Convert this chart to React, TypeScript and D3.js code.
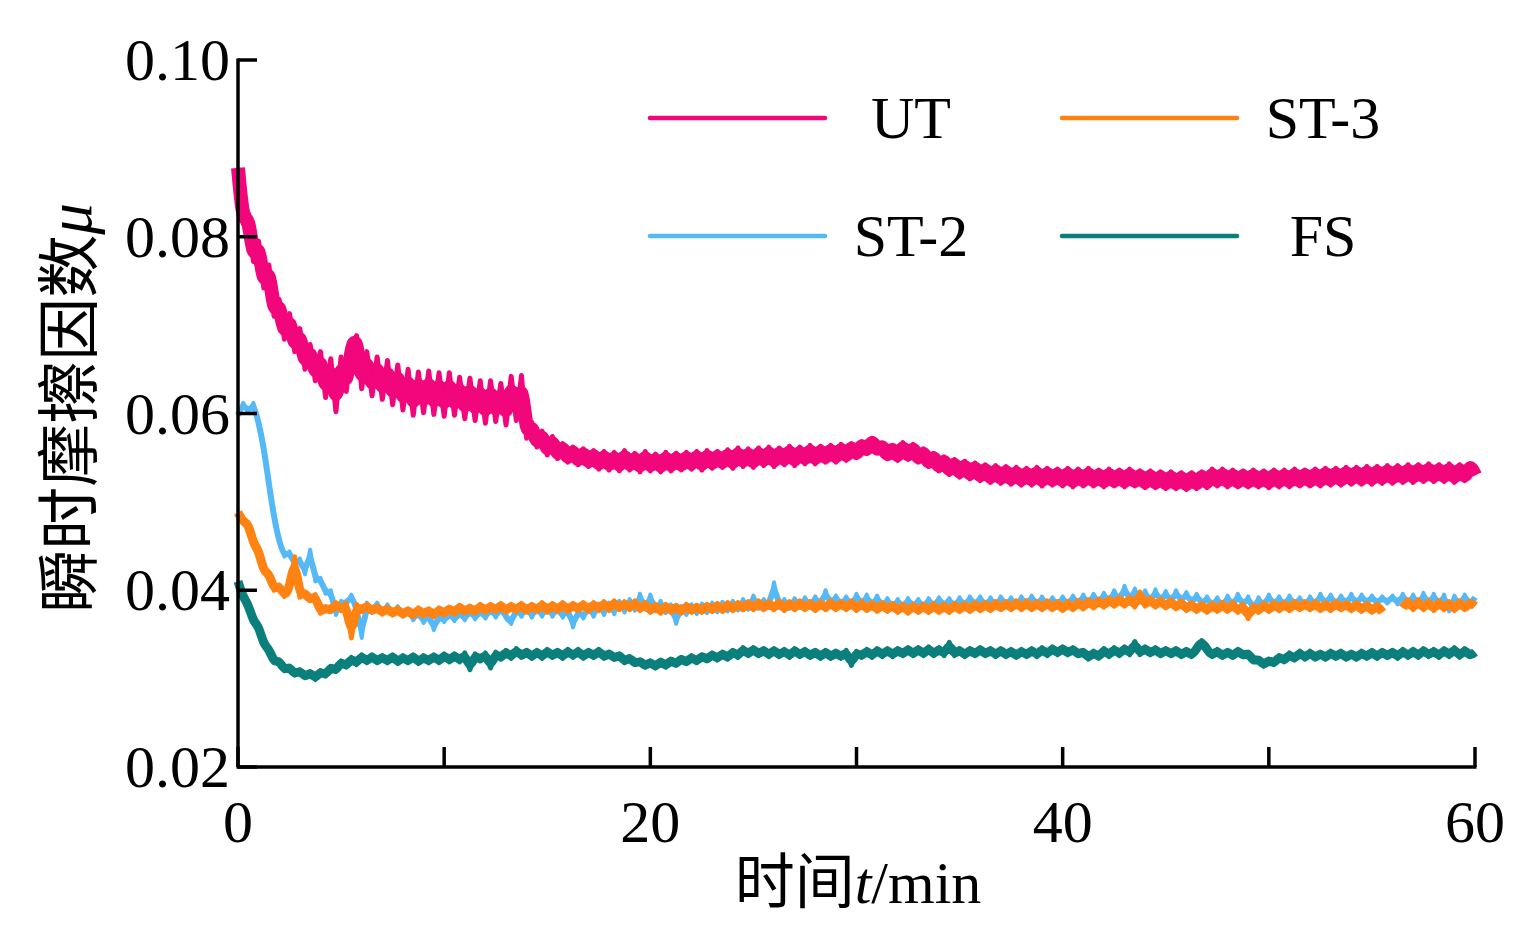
import React from "react";
import * as d3 from "d3";

// sampling step of the recorded curves, in minutes (241 samples over 0..60 min)
const STEP = 0.25;

// instantaneous friction coefficient (8 samples = 2 min per row)
const UT = [
  0.0878, 0.0815, 0.0826, 0.0772, 0.0795, 0.0742, 0.0768, 0.071,
  0.0729, 0.0684, 0.0713, 0.067, 0.0696, 0.065, 0.0678, 0.0637,
  0.067, 0.0618, 0.0662, 0.0602, 0.0664, 0.0625, 0.0676, 0.0688,
  0.0628, 0.067, 0.062, 0.0664, 0.0616, 0.066, 0.061, 0.0655,
  0.0604, 0.065, 0.0598, 0.0647, 0.0601, 0.0648, 0.0599, 0.0646,
  0.0597, 0.0646, 0.0598, 0.0641, 0.0594, 0.064, 0.0592, 0.0637,
  0.0589, 0.0637, 0.0591, 0.0634, 0.0587, 0.0642, 0.0592, 0.0643,
  0.0572, 0.059, 0.0562, 0.058, 0.0553, 0.0574, 0.0549, 0.0566,
  0.0545, 0.0562, 0.0542, 0.056, 0.054, 0.0558, 0.0537, 0.0557,
  0.0536, 0.0556, 0.0535, 0.0558, 0.0536, 0.0555, 0.0534, 0.0557,
  0.0535, 0.0554, 0.0534, 0.0556, 0.0535, 0.0555, 0.0536, 0.0556,
  0.0537, 0.0557, 0.0536, 0.0558, 0.0538, 0.0557, 0.0539, 0.0559,
  0.0538, 0.0561, 0.054, 0.056, 0.0539, 0.0561, 0.0541, 0.0562,
  0.054, 0.0561, 0.0542, 0.0563, 0.0541, 0.0562, 0.0543, 0.0564,
  0.0543, 0.0563, 0.0545, 0.0564, 0.0545, 0.0565, 0.0547, 0.0566,
  0.055, 0.0568, 0.0555, 0.0572, 0.0556, 0.0566, 0.0549, 0.0564,
  0.0547, 0.0567, 0.0548, 0.0565, 0.0545, 0.056, 0.054, 0.0555,
  0.0535, 0.0551, 0.0531, 0.0548, 0.0528, 0.0546, 0.0526, 0.0544,
  0.0524, 0.0542, 0.0522, 0.0541, 0.0521, 0.054, 0.052, 0.0539,
  0.0519, 0.0538, 0.0519, 0.0539, 0.0518, 0.0538, 0.0519, 0.0537,
  0.0518, 0.0538, 0.0517, 0.0537, 0.0518, 0.0538, 0.0518, 0.0536,
  0.0517, 0.0537, 0.0518, 0.0536, 0.0517, 0.0537, 0.0518, 0.0535,
  0.0516, 0.0535, 0.0516, 0.0534, 0.0515, 0.0534, 0.0515, 0.0533,
  0.0514, 0.0533, 0.0515, 0.0534, 0.0516, 0.0537, 0.0518, 0.0537,
  0.0517, 0.0536, 0.0517, 0.0535, 0.0517, 0.0536, 0.0517, 0.0535,
  0.0516, 0.0536, 0.0517, 0.0536, 0.0517, 0.0537, 0.0518, 0.0536,
  0.0518, 0.0537, 0.0518, 0.0538, 0.0519, 0.0538, 0.0519, 0.0539,
  0.052, 0.0539, 0.052, 0.054, 0.052, 0.054, 0.0521, 0.0541,
  0.0521, 0.0541, 0.0522, 0.0542, 0.0522, 0.0542, 0.0523, 0.0543,
  0.0523, 0.0542, 0.0523, 0.0543, 0.0522, 0.0542, 0.0524, 0.0543,
  0.053,
];

const ST2 = [
  0.0598, 0.0612, 0.0601, 0.0612, 0.059, 0.0562, 0.052, 0.0482,
  0.0455, 0.0438, 0.0444, 0.0428, 0.0436, 0.0418, 0.0446, 0.041,
  0.0414, 0.0396, 0.04, 0.0372, 0.0388, 0.0384, 0.0395, 0.038,
  0.0346, 0.0386, 0.0376, 0.0386, 0.0374, 0.0384, 0.0372, 0.0382,
  0.037, 0.0378, 0.0366, 0.0376, 0.0363, 0.0373, 0.0355, 0.0372,
  0.0364, 0.0375, 0.0365, 0.0376, 0.0366, 0.0378, 0.0367, 0.0378,
  0.0368, 0.038, 0.0369, 0.0381, 0.037, 0.0362, 0.038, 0.037,
  0.0382, 0.0369, 0.0381, 0.037, 0.0383, 0.037, 0.0381, 0.0369,
  0.038, 0.0358, 0.0378, 0.0368, 0.0382, 0.037, 0.0385, 0.0372,
  0.0386, 0.0373, 0.0388, 0.0375, 0.039, 0.0377, 0.0396, 0.0378,
  0.0395, 0.0376, 0.0388, 0.0374, 0.0384, 0.0362, 0.0382, 0.0372,
  0.0384, 0.0373, 0.0385, 0.0374, 0.0386, 0.0375, 0.0387, 0.0376,
  0.0388, 0.0377, 0.039, 0.0378, 0.0394, 0.0379, 0.039, 0.038,
  0.0409, 0.038, 0.039, 0.0379, 0.0391, 0.038, 0.0392, 0.0381,
  0.0393, 0.0382, 0.04, 0.0383, 0.0394, 0.0382, 0.0393, 0.0381,
  0.0396, 0.0382, 0.0395, 0.0381, 0.0394, 0.038, 0.0391, 0.0379,
  0.039, 0.0379, 0.0391, 0.038, 0.039, 0.0379, 0.0391, 0.038,
  0.0392, 0.0381, 0.0391, 0.038, 0.0392, 0.0381, 0.0393, 0.0382,
  0.0393, 0.0381, 0.0392, 0.0381, 0.0393, 0.0382, 0.0392, 0.0381,
  0.0393, 0.0382, 0.0394, 0.0382, 0.0393, 0.0381, 0.0392, 0.0382,
  0.0393, 0.0382, 0.0394, 0.0383, 0.0395, 0.0383, 0.0396, 0.0384,
  0.0397, 0.0385, 0.04, 0.0386, 0.0405, 0.0387, 0.0402, 0.0386,
  0.04, 0.0385, 0.0401, 0.0386, 0.0399, 0.0385, 0.04, 0.0386,
  0.0398, 0.0384, 0.0396, 0.0383, 0.0393, 0.0381, 0.0392, 0.038,
  0.0394, 0.0381, 0.0396, 0.0382, 0.0393, 0.0377, 0.0392, 0.0381,
  0.0395, 0.0382, 0.0393, 0.0381, 0.0394, 0.0382, 0.0392, 0.0381,
  0.0393, 0.0382, 0.0396, 0.0383, 0.0395, 0.0382, 0.0394, 0.0383,
  0.0396, 0.0383, 0.0395, 0.0384, 0.0394, 0.0384, 0.0393, 0.0385,
  0.0394, 0.0384, 0.0396, 0.0383, 0.0395, 0.0382, 0.0397, 0.0383,
  0.0396, 0.0382, 0.0395, 0.0376, 0.0394, 0.0382, 0.0395, 0.0383,
  0.0392,
];

// null = no trace drawn (short gap near 56 min)
const ST3 = [
  0.0488, 0.0477, 0.0476, 0.0452, 0.0446, 0.042, 0.042, 0.04,
  0.0406, 0.0393, 0.0402, 0.0438, 0.0392, 0.0398, 0.0388, 0.0395,
  0.0374, 0.0381, 0.0376, 0.0386, 0.0377, 0.0385, 0.0346, 0.0384,
  0.0376, 0.0384, 0.0375, 0.0382, 0.0373, 0.0381, 0.0372, 0.038,
  0.0371, 0.0379, 0.037, 0.038, 0.0371, 0.0379, 0.037, 0.038,
  0.0372, 0.0381, 0.0373, 0.0383, 0.0374, 0.0382, 0.0374, 0.0384,
  0.0375, 0.0384, 0.0376, 0.0385, 0.0375, 0.0384, 0.0376, 0.0385,
  0.0375, 0.0384, 0.0376, 0.0386, 0.0375, 0.0385, 0.0376, 0.0386,
  0.0376, 0.0385, 0.0377, 0.0386, 0.0376, 0.0386, 0.0377, 0.0387,
  0.0377, 0.0388, 0.0378, 0.0387, 0.0378, 0.0388, 0.0377, 0.0386,
  0.0375, 0.0384, 0.0374, 0.0384, 0.0375, 0.0383, 0.0374, 0.0384,
  0.0375, 0.0383, 0.0375, 0.0384, 0.0376, 0.0385, 0.0376, 0.0386,
  0.0377, 0.0386, 0.0378, 0.0387, 0.0378, 0.0388, 0.0378, 0.0387,
  0.0378, 0.0388, 0.0377, 0.0387, 0.0378, 0.0388, 0.0378, 0.0387,
  0.0377, 0.0387, 0.0378, 0.0388, 0.0378, 0.0387, 0.0378, 0.0388,
  0.0377, 0.0387, 0.0377, 0.0386, 0.0376, 0.0386, 0.0376, 0.0385,
  0.0375, 0.0384, 0.0374, 0.0384, 0.0375, 0.0384, 0.0375, 0.0385,
  0.0375, 0.0384, 0.0375, 0.0385, 0.0376, 0.0385, 0.0376, 0.0386,
  0.0377, 0.0386, 0.0377, 0.0387, 0.0378, 0.0387, 0.0378, 0.0388,
  0.0378, 0.0388, 0.0378, 0.0387, 0.0378, 0.0388, 0.0378, 0.0387,
  0.0377, 0.0387, 0.0378, 0.0388, 0.0379, 0.0389, 0.038, 0.039,
  0.0381, 0.0391, 0.0382, 0.0392, 0.0382, 0.0392, 0.0381, 0.0398,
  0.0382, 0.0391, 0.0381, 0.039, 0.038, 0.0389, 0.0379, 0.0388,
  0.0377, 0.0386, 0.0376, 0.0385, 0.0375, 0.0385, 0.0376, 0.0386,
  0.0376, 0.0386, 0.0375, 0.0384, 0.0368, 0.0383, 0.0375, 0.0385,
  0.0376, 0.0386, 0.0377, 0.0386, 0.0377, 0.0387, 0.0378, 0.0387,
  0.0378, 0.0387, 0.0377, 0.0386, 0.0377, 0.0387, 0.0378, 0.0386,
  0.0377, 0.0386, 0.0376, 0.0385, 0.0375, 0.0384, 0.0375, null,
  null, null, 0.038, 0.0389, 0.0378, 0.0389, 0.0378, 0.0388,
  0.0377, 0.0388, 0.0378, 0.0387, 0.0377, 0.0388, 0.0378, 0.0387,
  0.0382,
];

const FS = [
  0.041, 0.0392, 0.0384, 0.0364, 0.036, 0.0338, 0.0334, 0.0318,
  0.0321, 0.0309, 0.0314, 0.0304, 0.031, 0.0301, 0.0308, 0.0299,
  0.0309, 0.0303, 0.0314, 0.0308, 0.032, 0.0313, 0.0324, 0.0316,
  0.0327, 0.0318, 0.0327, 0.0318, 0.0326, 0.0318, 0.0327, 0.0317,
  0.0326, 0.0318, 0.0327, 0.0317, 0.0326, 0.0318, 0.0327, 0.0318,
  0.0328, 0.0319, 0.0328, 0.0319, 0.0329, 0.031, 0.0328, 0.032,
  0.0329, 0.0312, 0.033, 0.0322, 0.0332, 0.0323, 0.0334, 0.0324,
  0.0332, 0.0323, 0.0332, 0.0323, 0.0333, 0.0324, 0.0332, 0.0323,
  0.0333, 0.0324, 0.0333, 0.0323, 0.0332, 0.0324, 0.0333, 0.0323,
  0.033, 0.0322, 0.0328, 0.0318, 0.0325, 0.0316, 0.0321, 0.0313,
  0.032, 0.0312, 0.0321, 0.0313, 0.0322, 0.0315, 0.0324, 0.0317,
  0.0326, 0.0318, 0.0327, 0.032, 0.0329, 0.0321, 0.033, 0.0322,
  0.0332, 0.0324, 0.0335, 0.0326, 0.0335, 0.0326, 0.0334, 0.0325,
  0.0334, 0.0325, 0.0333, 0.0324, 0.0334, 0.0325, 0.0333, 0.0324,
  0.0332, 0.0323, 0.0332, 0.0323, 0.0331, 0.0323, 0.0332, 0.0315,
  0.0331, 0.0324, 0.0333, 0.0324, 0.0334, 0.0325, 0.0334, 0.0325,
  0.0334, 0.0326, 0.0335, 0.0326, 0.0335, 0.0326, 0.0336, 0.0326,
  0.0335, 0.0326, 0.0341, 0.0326, 0.0334, 0.0325, 0.0334, 0.0326,
  0.0335, 0.0326, 0.0334, 0.0325, 0.0334, 0.0325, 0.0333, 0.0324,
  0.0333, 0.0325, 0.0334, 0.0325, 0.0335, 0.0326, 0.0336, 0.0327,
  0.0336, 0.0327, 0.0335, 0.0326, 0.0332, 0.0322, 0.0331, 0.0323,
  0.0334, 0.0325, 0.0335, 0.0326, 0.0336, 0.0327, 0.0342, 0.0327,
  0.0336, 0.0327, 0.0335, 0.0326, 0.0334, 0.0326, 0.0334, 0.0325,
  0.0333, 0.0325, 0.0334, 0.0343, 0.0333, 0.0325, 0.0333, 0.0324,
  0.0332, 0.0324, 0.0333, 0.0325, 0.033, 0.0319, 0.0323, 0.0314,
  0.0322, 0.0316, 0.0326, 0.0319, 0.0329, 0.0321, 0.0331, 0.0322,
  0.0331, 0.0322, 0.033, 0.0322, 0.0331, 0.0323, 0.0331, 0.0322,
  0.033, 0.0322, 0.0331, 0.0323, 0.0332, 0.0323, 0.0332, 0.0324,
  0.0332, 0.0323, 0.0333, 0.0324, 0.0333, 0.0324, 0.0334, 0.0325,
  0.0333, 0.0324, 0.0334, 0.0325, 0.0335, 0.0324, 0.0334, 0.0325,
  0.033,
];

const X_TICKS = [0, 10, 20, 30, 40, 50, 60];
const X_LABELS = [0, 20, 40, 60];
const Y_TICKS = [0.02, 0.04, 0.06, 0.08, 0.1];

// width = trace stroke, core = smoothed under-stroke that fills the noise band
const SERIES = [
  { name: "UT", values: UT, color: "#f2067c", width: 5, core: 14 },
  { name: "ST-2", values: ST2, color: "#55b8f7", width: 4, core: 6 },
  { name: "ST-3", values: ST3, color: "#ff8312", width: 5, core: 9 },
  { name: "FS", values: FS, color: "#0a7f7b", width: 5, core: 9 },
];

// legend grid: [series name, column, row]
const LEGEND: [string, number, number][] = [
  ["UT", 0, 0],
  ["ST-3", 1, 0],
  ["ST-2", 0, 1],
  ["FS", 1, 1],
];

const FONT = '"Liberation Serif", "Times New Roman", "Noto Sans CJK SC", serif';

export default function App() {
  const x = d3.scaleLinear().domain([0, 60]).range([238, 1475]);
  const y = d3.scaleLinear().domain([0.02, 0.1]).range([767, 60]);

  const line = d3
    .line<number | null>()
    .defined((d) => d !== null)
    .x((_, i) => x(i * STEP))
    .y((d) => y(d as number));

  const smooth = d3
    .line<number | null>()
    .defined((d) => d !== null)
    .curve(d3.curveBasis)
    .x((_, i) => x(i * STEP))
    .y((d) => y(d as number));

  const x0 = x(0);
  const y0 = y(0.02);

  return (
    <svg
      width={1538}
      height={950}
      style={{ position: "absolute", left: 0, top: 0, background: "#fff" }}
      fontFamily={FONT}
    >
      {/* curves */}
      {SERIES.map((s) => (
        <g key={s.name}>
          <path
            d={smooth(s.values) || ""}
            fill="none"
            stroke={s.color}
            strokeWidth={s.core}
            strokeLinejoin="round"
          />
          <path
            d={line(s.values) || ""}
            fill="none"
            stroke={s.color}
            strokeWidth={s.width}
            strokeLinejoin="round"
          />
        </g>
      ))}

      {/* axes */}
      <line x1={x0} y1={y(0.1) - 1.5} x2={x0} y2={y0} stroke="#000" strokeWidth={3.5} />
      <line x1={x0 - 1.5} y1={y0} x2={x(60) + 1.5} y2={y0} stroke="#000" strokeWidth={3.5} />

      {Y_TICKS.map((t) => (
        <g key={t}>
          <line x1={x0} x2={x0 + 19} y1={y(t)} y2={y(t)} stroke="#000" strokeWidth={3.5} />
          <text x={x0 - 8} y={y(t) + 20} textAnchor="end" fontSize={60}>
            {t.toFixed(2)}
          </text>
        </g>
      ))}

      {X_TICKS.map((t) => (
        <line key={t} x1={x(t)} x2={x(t)} y1={y0} y2={y0 - 20} stroke="#000" strokeWidth={3.5} />
      ))}
      {X_LABELS.map((t) => (
        <text key={t} x={x(t)} y={842} textAnchor="middle" fontSize={60}>
          {t}
        </text>
      ))}

      {/* axis titles */}
      <text x={858} y={903} textAnchor="middle" fontSize={60}>
        时间<tspan fontStyle="italic">t</tspan>/min
      </text>
      <text transform="translate(91,408) rotate(-90)" textAnchor="middle" fontSize={63}>
        瞬时摩擦因数<tspan fontStyle="italic">μ</tspan>
      </text>

      {/* legend */}
      {LEGEND.map(([name, col, row]) => {
        const s = SERIES.find((d) => d.name === name)!;
        const lx = 650 + col * 412;
        const ly = 118 + row * 118;
        return (
          <g key={name}>
            <line
              x1={lx}
              x2={lx + 175}
              y1={ly}
              y2={ly}
              stroke={s.color}
              strokeWidth={4.5}
              strokeLinecap="round"
            />
            <text x={lx + 261} y={ly + 20} textAnchor="middle" fontSize={60}>
              {name}
            </text>
          </g>
        );
      })}
    </svg>
  );
}
